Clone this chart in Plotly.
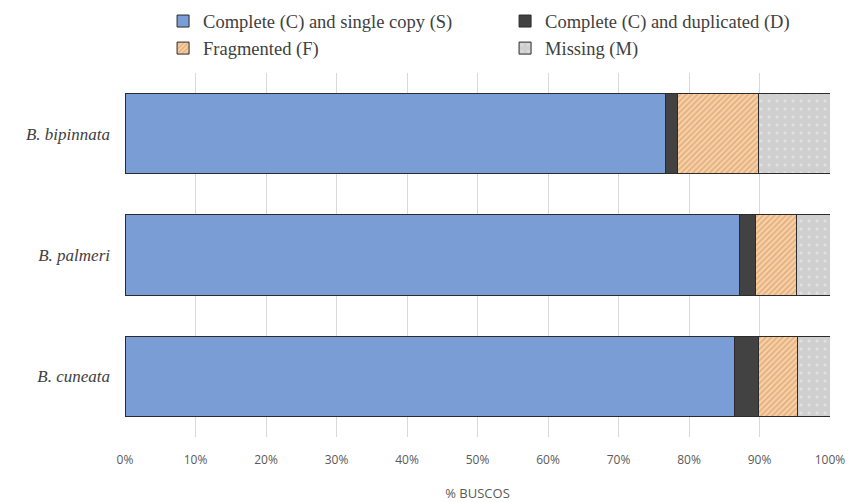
import plotly.graph_objects as go

species = ["B. bipinnata", "B. palmeri", "B. cuneata"]
single_copy = [76.6, 87.2, 86.5]
duplicated = [1.7, 2.3, 3.3]
fragmented = [11.5, 5.7, 5.6]
missing = [10.2, 4.8, 4.6]
series_names = ["Complete (C) and single copy (S)", "Complete (C) and duplicated (D)",
                "Fragmented (F)", "Missing (M)"]
x_ticks = [0, 10, 20, 30, 40, 50, 60, 70, 80, 90, 100]
x_tick_labels = [f"{v}%" for v in x_ticks]

fig = go.Figure()
line = dict(color="#2b2b2b", width=1)
fig.add_trace(go.Bar(y=species, x=single_copy, orientation="h", name=series_names[0],
                     marker=dict(color="#7b9dd6", line=line)))
fig.add_trace(go.Bar(y=species, x=duplicated, orientation="h", name=series_names[1],
                     marker=dict(color="#424242", line=line)))
fig.add_trace(go.Bar(y=species, x=fragmented, orientation="h", name=series_names[2],
                     marker=dict(color="#f6cda2", line=line,
                                 pattern=dict(shape="/", fgcolor="#d3904f", bgcolor="#f7d3ad",
                                              size=4, solidity=0.5))))
fig.add_trace(go.Bar(y=species, x=missing, orientation="h", name=series_names[3],
                     marker=dict(color="#d0d0d0", line=line,
                                 pattern=dict(shape=".", fgcolor="#f4f4f4", bgcolor="#cfcfcf",
                                              size=8, solidity=0.12))))

fig.update_layout(
    barmode="stack",
    bargap=0.34,
    width=848, height=502,
    margin=dict(l=125, r=18, t=73, b=65, autoexpand=False),
    paper_bgcolor="white", plot_bgcolor="white",
    legend=dict(orientation="h", x=0.054, y=0.995, xanchor="left", yanchor="top",
                xref="paper", yref="container",
                entrywidth=297, entrywidthmode="pixels",
                font=dict(family="Liberation Serif", size=18.5, color="#404040"),
                traceorder="normal", itemwidth=30, tracegroupgap=0),
    showlegend=True,
)
fig.update_xaxes(range=[0, 100], tickvals=x_ticks, ticktext=x_tick_labels,
                 showgrid=True, gridcolor="#d9d9d9", gridwidth=1, zeroline=False,
                 showline=False, ticks="", ticklabelstandoff=14, automargin=False,
                 tickfont=dict(family="Open Sans", size=12, color="#595959"),
                 title=dict(text="% BUSCOS", standoff=28,
                            font=dict(family="Open Sans", size=13, color="#595959")))
fig.update_yaxes(autorange="reversed", tickvals=species,
                 ticktext=[f"<i>{s}</i>" for s in species],
                 showgrid=False, showline=False, ticks="", ticklabelstandoff=14,
                 automargin=False,
                 tickfont=dict(family="Liberation Serif", size=17, color="#404040"))

fig.write_html("out.html", config={"displayModeBar": False},
               post_script="document.body.style.margin='0';document.body.style.overflow='hidden';")
